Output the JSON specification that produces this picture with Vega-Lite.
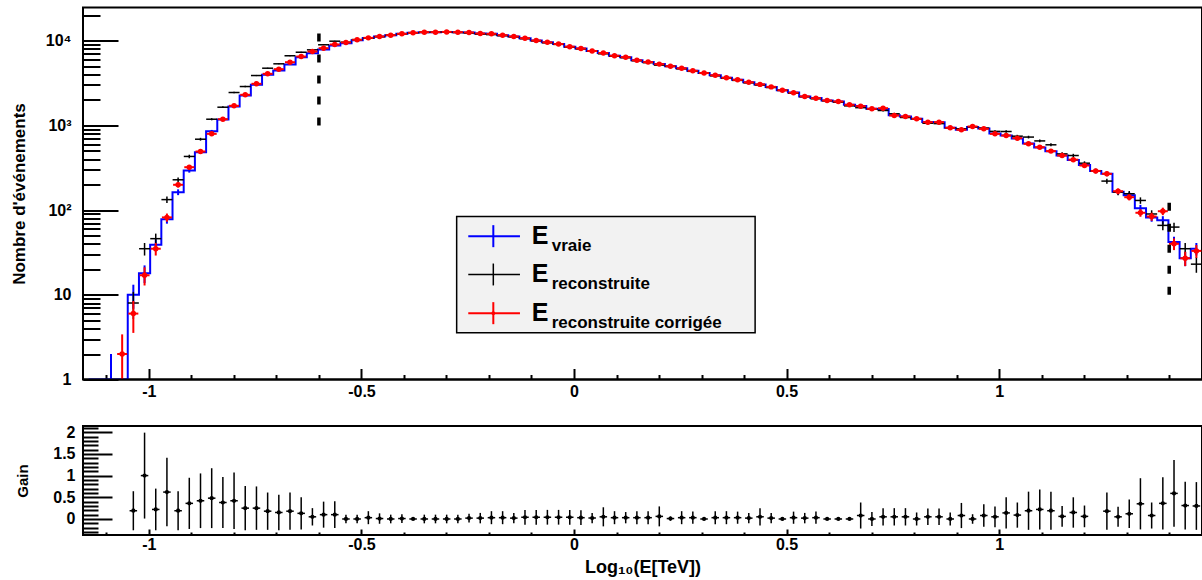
{
"$schema":"https://vega.github.io/schema/vega-lite/v6.json",
"background":"white",
"padding":{"left":9,"top":6.5,"right":0,"bottom":0},
"spacing":22.5,
"config":{
 "view":{"stroke":"black","strokeWidth":2},
 "axis":{"labelFont":"Liberation Sans","labelFontWeight":"bold","labelFontSize":16,"labelColor":"black","titleFont":"Liberation Sans","titleFontWeight":"bold","titleColor":"black","tickColor":"black","tickWidth":2,"domain":false,"grid":false}
},
"datasets":{"h":[
{"x":-1.1417,"v":0,"r":0,"c":0,"ev":0,"er":0,"ec":0},
{"x":-1.1154,"v":0,"r":0,"c":0,"ev":0,"er":0,"ec":0},
{"x":-1.0891,"v":1,"r":0,"c":0,"ev":1,"er":0,"ec":0},
{"x":-1.0628,"v":0,"r":0,"c":2,"ev":0,"er":0,"ec":1.41},
{"x":-1.0365,"v":10,"r":8,"c":6,"ev":3.16,"er":2.83,"ec":2.45,"g":0.19,"ge":0.45},
{"x":-1.0101,"v":18,"r":35,"c":17,"ev":4.24,"er":5.92,"ec":4.12,"g":1.0,"ge":0.99},
{"x":-0.9838,"v":39,"r":46,"c":35,"ev":6.24,"er":6.78,"ec":5.92,"g":0.22,"ge":0.48},
{"x":-0.9575,"v":78,"r":133,"c":82,"ev":8.83,"er":11.5,"ec":9.06,"g":0.62,"ge":0.79},
{"x":-0.9312,"v":163,"r":228,"c":199,"ev":12.8,"er":15.1,"ec":14.1,"g":0.19,"ge":0.45},
{"x":-0.9049,"v":294,"r":430,"c":321,"ev":17.1,"er":20.7,"ec":17.9,"g":0.36,"ge":0.59},
{"x":-0.8785,"v":483,"r":687,"c":492,"ev":22.0,"er":26.2,"ec":22.2,"g":0.42,"ge":0.63},
{"x":-0.8522,"v":855,"r":1183,"c":795,"ev":29.2,"er":34.4,"ec":28.2,"g":0.48,"ge":0.69},
{"x":-0.8259,"v":1175,"r":1640,"c":1183,"ev":34.3,"er":40.5,"ec":34.4,"g":0.38,"ge":0.59},
{"x":-0.7996,"v":1672,"r":2445,"c":1703,"ev":40.9,"er":49.4,"ec":41.3,"g":0.42,"ge":0.65},
{"x":-0.7733,"v":2256,"r":2877,"c":2297,"ev":47.5,"er":53.6,"ec":47.9,"g":0.25,"ge":0.51},
{"x":-0.7469,"v":3016,"r":3880,"c":3098,"ev":54.9,"er":62.3,"ec":55.7,"g":0.25,"ge":0.50},
{"x":-0.7206,"v":3958,"r":4735,"c":4064,"ev":62.9,"er":68.8,"ec":63.7,"g":0.18,"ge":0.43},
{"x":-0.6943,"v":4447,"r":5334,"c":4613,"ev":66.7,"er":73.0,"ec":67.9,"g":0.15,"ge":0.41},
{"x":-0.6680,"v":5236,"r":6640,"c":5571,"ev":72.4,"er":81.5,"ec":74.6,"g":0.18,"ge":0.43},
{"x":-0.6417,"v":6385,"r":7310,"c":6500,"ev":79.9,"er":85.5,"ec":80.6,"g":0.13,"ge":0.37},
{"x":-0.6153,"v":7130,"r":7800,"c":7450,"ev":84.4,"er":88.3,"ec":86.3,"g":0.05,"ge":0.2},
{"x":-0.5890,"v":7880,"r":8950,"c":8160,"ev":88.8,"er":94.6,"ec":90.3,"g":0.1,"ge":0.3},
{"x":-0.5627,"v":8770,"r":9870,"c":9020,"ev":93.6,"er":99.3,"ec":95.0,"g":0.1,"ge":0.31},
{"x":-0.5364,"v":9300,"r":9600,"c":9520,"ev":96.4,"er":98.0,"ec":97.6,"g":0.0,"ge":0.1},
{"x":-0.5101,"v":10150,"r":10300,"c":10240,"ev":100.7,"er":101.5,"ec":101.2,"g":0.0,"ge":0.1},
{"x":-0.4837,"v":10750,"r":10700,"c":10800,"ev":103.7,"er":103.4,"ec":103.9,"g":0.03,"ge":0.15},
{"x":-0.4574,"v":11200,"r":11150,"c":11210,"ev":105.8,"er":105.6,"ec":105.9,"g":0.01,"ge":0.12},
{"x":-0.4311,"v":11620,"r":11600,"c":11620,"ev":107.8,"er":107.7,"ec":107.8,"g":0.0,"ge":0.1},
{"x":-0.4048,"v":12050,"r":12000,"c":12050,"ev":109.8,"er":109.5,"ec":109.8,"g":0.01,"ge":0.1},
{"x":-0.3785,"v":12390,"r":12390,"c":12390,"ev":111.3,"er":111.3,"ec":111.3,"g":0.0,"ge":0.02},
{"x":-0.3521,"v":12600,"r":12550,"c":12610,"ev":112.2,"er":112.0,"ec":112.3,"g":0.0,"ge":0.1},
{"x":-0.3258,"v":12620,"r":12600,"c":12610,"ev":112.3,"er":112.2,"ec":112.3,"g":0.0,"ge":0.1},
{"x":-0.2995,"v":12700,"r":12650,"c":12700,"ev":112.7,"er":112.5,"ec":112.7,"g":0.0,"ge":0.1},
{"x":-0.2732,"v":12600,"r":12500,"c":12610,"ev":112.2,"er":111.8,"ec":112.3,"g":0.0,"ge":0.1},
{"x":-0.2469,"v":12480,"r":12300,"c":12500,"ev":111.7,"er":110.9,"ec":111.8,"g":0.02,"ge":0.1},
{"x":-0.2205,"v":12150,"r":11950,"c":12160,"ev":110.2,"er":109.3,"ec":110.3,"g":0.02,"ge":0.12},
{"x":-0.1942,"v":12050,"r":11800,"c":12050,"ev":109.8,"er":108.6,"ec":109.8,"g":0.03,"ge":0.15},
{"x":-0.1679,"v":11620,"r":11450,"c":11620,"ev":107.8,"er":107.0,"ec":107.8,"g":0.03,"ge":0.15},
{"x":-0.1416,"v":11200,"r":11100,"c":11210,"ev":105.8,"er":105.4,"ec":105.9,"g":0.02,"ge":0.12},
{"x":-0.1153,"v":10700,"r":10550,"c":10700,"ev":103.4,"er":102.7,"ec":103.4,"g":0.04,"ge":0.17},
{"x":-0.0889,"v":10050,"r":9950,"c":10040,"ev":100.2,"er":99.7,"ec":100.2,"g":0.04,"ge":0.17},
{"x":-0.0626,"v":9560,"r":9450,"c":9570,"ev":97.8,"er":97.2,"ec":97.8,"g":0.04,"ge":0.17},
{"x":-0.0363,"v":9130,"r":9050,"c":9130,"ev":95.6,"er":95.1,"ec":95.6,"g":0.04,"ge":0.17},
{"x":-0.0100,"v":8500,"r":8400,"c":8490,"ev":92.2,"er":91.7,"ec":92.1,"g":0.04,"ge":0.17},
{"x":0.0163,"v":8100,"r":8000,"c":8090,"ev":90.0,"er":89.4,"ec":89.9,"g":0.03,"ge":0.17},
{"x":0.0427,"v":7580,"r":7500,"c":7580,"ev":87.1,"er":86.6,"ec":87.1,"g":0.02,"ge":0.12},
{"x":0.0690,"v":7160,"r":7000,"c":7160,"ev":84.6,"er":83.7,"ec":84.6,"g":0.05,"ge":0.22},
{"x":0.0953,"v":6650,"r":6550,"c":6640,"ev":81.5,"er":80.9,"ec":81.5,"g":0.03,"ge":0.15},
{"x":0.1216,"v":6380,"r":6300,"c":6390,"ev":79.9,"er":79.4,"ec":79.9,"g":0.03,"ge":0.13},
{"x":0.1479,"v":5870,"r":5800,"c":5870,"ev":76.6,"er":76.2,"ec":76.6,"g":0.03,"ge":0.15},
{"x":0.1743,"v":5590,"r":5500,"c":5590,"ev":74.8,"er":74.2,"ec":74.8,"g":0.03,"ge":0.15},
{"x":0.2006,"v":5300,"r":5150,"c":5290,"ev":72.8,"er":71.8,"ec":72.7,"g":0.06,"ge":0.23},
{"x":0.2269,"v":5000,"r":4980,"c":4990,"ev":70.7,"er":70.6,"ec":70.6,"g":0.01,"ge":0.05},
{"x":0.2532,"v":4720,"r":4650,"c":4720,"ev":68.7,"er":68.2,"ec":68.7,"g":0.03,"ge":0.15},
{"x":0.2795,"v":4420,"r":4350,"c":4410,"ev":66.5,"er":66.0,"ec":66.4,"g":0.03,"ge":0.14},
{"x":0.3059,"v":4150,"r":4130,"c":4150,"ev":64.4,"er":64.3,"ec":64.4,"g":0.0,"ge":0.03},
{"x":0.3322,"v":3900,"r":3850,"c":3900,"ev":62.4,"er":62.0,"ec":62.4,"g":0.03,"ge":0.15},
{"x":0.3585,"v":3650,"r":3600,"c":3650,"ev":60.4,"er":60.0,"ec":60.4,"g":0.03,"ge":0.15},
{"x":0.3848,"v":3450,"r":3400,"c":3450,"ev":58.7,"er":58.3,"ec":58.7,"g":0.03,"ge":0.14},
{"x":0.4111,"v":3230,"r":3180,"c":3230,"ev":56.8,"er":56.4,"ec":56.8,"g":0.02,"ge":0.12},
{"x":0.4375,"v":3050,"r":3000,"c":3050,"ev":55.2,"er":54.8,"ec":55.2,"g":0.05,"ge":0.2},
{"x":0.4638,"v":2850,"r":2800,"c":2850,"ev":53.4,"er":52.9,"ec":53.4,"g":0.02,"ge":0.12},
{"x":0.4901,"v":2600,"r":2590,"c":2600,"ev":51.0,"er":50.9,"ec":51.0,"g":0.0,"ge":0.03},
{"x":0.5164,"v":2450,"r":2400,"c":2430,"ev":49.5,"er":49.0,"ec":49.3,"g":0.03,"ge":0.14},
{"x":0.5427,"v":2200,"r":2180,"c":2200,"ev":46.9,"er":46.7,"ec":46.9,"g":0.02,"ge":0.12},
{"x":0.5691,"v":2100,"r":2060,"c":2097,"ev":45.8,"er":45.4,"ec":45.8,"g":0.03,"ge":0.14},
{"x":0.5954,"v":1970,"r":1950,"c":1968,"ev":44.4,"er":44.2,"ec":44.4,"g":0.0,"ge":0.02},
{"x":0.6217,"v":1915,"r":1880,"c":1915,"ev":43.8,"er":43.4,"ec":43.8,"g":0.0,"ge":0.02},
{"x":0.6480,"v":1750,"r":1700,"c":1750,"ev":41.8,"er":41.2,"ec":41.8,"g":0.0,"ge":0.02},
{"x":0.6743,"v":1690,"r":1620,"c":1687,"ev":41.1,"er":40.2,"ec":41.1,"g":0.08,"ge":0.3},
{"x":0.7007,"v":1570,"r":1560,"c":1570,"ev":39.6,"er":39.5,"ec":39.6,"g":0.0,"ge":0.16},
{"x":0.7270,"v":1560,"r":1500,"c":1597,"ev":39.5,"er":38.7,"ec":40.0,"g":0.05,"ge":0.2},
{"x":0.7533,"v":1320,"r":1371,"c":1309,"ev":36.3,"er":37.0,"ec":36.2,"g":0.05,"ge":0.2},
{"x":0.7796,"v":1270,"r":1240,"c":1274,"ev":35.6,"er":35.2,"ec":35.7,"g":0.05,"ge":0.2},
{"x":0.8059,"v":1200,"r":1190,"c":1196,"ev":34.6,"er":34.5,"ec":34.6,"g":0.0,"ge":0.15},
{"x":0.8323,"v":1100,"r":1060,"c":1092,"ev":33.2,"er":32.6,"ec":33.0,"g":0.05,"ge":0.19},
{"x":0.8586,"v":1090,"r":1050,"c":1092,"ev":33.0,"er":32.4,"ec":33.0,"g":0.05,"ge":0.19},
{"x":0.8849,"v":940,"r":936,"c":936,"ev":30.7,"er":30.6,"ec":30.6,"g":0.0,"ge":0.15},
{"x":0.9112,"v":890,"r":911,"c":887,"ev":29.8,"er":30.2,"ec":29.8,"g":0.08,"ge":0.29},
{"x":0.9375,"v":960,"r":960,"c":971,"ev":31.0,"er":31.0,"ec":31.2,"g":0.0,"ge":0.11},
{"x":0.9639,"v":920,"r":930,"c":911,"ev":30.3,"er":30.5,"ec":30.2,"g":0.08,"ge":0.26},
{"x":0.9902,"v":800,"r":850,"c":795,"ev":28.3,"er":29.2,"ec":28.2,"g":0.05,"ge":0.24},
{"x":1.0165,"v":760,"r":847,"c":760,"ev":27.6,"er":29.1,"ec":27.6,"g":0.14,"ge":0.36},
{"x":1.0428,"v":700,"r":746,"c":707,"ev":26.5,"er":27.3,"ec":26.6,"g":0.09,"ge":0.29},
{"x":1.0691,"v":610,"r":728,"c":606,"ev":24.7,"er":27.0,"ec":24.6,"g":0.19,"ge":0.44},
{"x":1.0955,"v":550,"r":656,"c":553,"ev":23.5,"er":25.6,"ec":23.5,"g":0.22,"ge":0.46},
{"x":1.1218,"v":495,"r":590,"c":497,"ev":22.2,"er":24.3,"ec":22.3,"g":0.19,"ge":0.44},
{"x":1.1481,"v":440,"r":461,"c":441,"ev":21.0,"er":21.5,"ec":21.0,"g":0.06,"ge":0.24},
{"x":1.1744,"v":390,"r":441,"c":394,"ev":19.7,"er":21.0,"ec":19.8,"g":0.15,"ge":0.35},
{"x":1.2007,"v":340,"r":358,"c":336,"ev":18.4,"er":18.9,"ec":18.3,"g":0.06,"ge":0.25},
{"x":1.2271,"v":290,"r":290,"c":290,"ev":17.0,"er":17.0,"ec":17.0},
{"x":1.2534,"v":268,"r":220,"c":268,"ev":16.4,"er":14.8,"ec":16.4,"g":0.18,"ge":0.43},
{"x":1.2797,"v":165,"r":163,"c":167,"ev":12.8,"er":12.8,"ec":12.9,"g":0.05,"ge":0.23},
{"x":1.3060,"v":150,"r":156,"c":142,"ev":12.2,"er":12.5,"ec":11.9,"g":0.12,"ge":0.33},
{"x":1.3323,"v":105,"r":130,"c":93,"ev":10.2,"er":11.4,"ec":9.6,"g":0.35,"ge":0.59},
{"x":1.3587,"v":82,"r":90,"c":84,"ev":9.1,"er":9.5,"ec":9.2,"g":0.08,"ge":0.3},
{"x":1.3850,"v":76,"r":66,"c":97,"ev":8.7,"er":8.1,"ec":9.8,"g":0.36,"ge":0.6},
{"x":1.4113,"v":42,"r":63,"c":40,"ev":6.5,"er":7.9,"ec":6.3,"g":0.59,"ge":0.77},
{"x":1.4376,"v":27,"r":35,"c":27,"ev":5.2,"er":5.9,"ec":5.2,"g":0.31,"ge":0.55},
{"x":1.4639,"v":35,"r":23,"c":33,"ev":5.9,"er":4.8,"ec":5.7,"g":0.3,"ge":0.55}
]},
"vconcat":[
{
 "width":1119,"height":372,
 "resolve":{"axis":{"x":"independent","y":"independent"}},
 "layer":[
  {"data":{"name":"h"},
   "mark":{"type":"line","interpolate":"step","color":"#0000ff","strokeWidth":2,"clip":true},
   "encoding":{
    "x":{"field":"x","type":"quantitative","scale":{"domain":[-1.154902,1.477121],"nice":false,"zero":false},
         "axis":{"orient":"bottom","values":[-1,-0.5,0,0.5,1],"tickSize":-11,"labelPadding":14.5,"labelExpr":"datum.value + ''","title":null}},
    "y":{"field":"v","type":"quantitative","scale":{"type":"log","domain":[1,24660],"nice":false,"clamp":true},
         "axis":{"orient":"left","values":[1,10,100,1000,10000],"tickSize":-35,"labelPadding":47,"labelExpr":"datum.value >= 10000 ? '10⁴' : datum.value >= 1000 ? '10³' : datum.value >= 100 ? '10²' : datum.value >= 10 ? '10' : '1'","title":"Nombre d'événements","titleFontSize":17,"titlePadding":17}}
   }},
  {"data":{"name":"h"},"transform":[{"filter":"datum.v > 0"}],
   "mark":{"type":"errorbar","ticks":false,"color":"#0000ff","thickness":2},
   "encoding":{"x":{"field":"x","type":"quantitative","axis":null},"y":{"field":"v","type":"quantitative","axis":null},"yError":{"field":"ev"}}},
  {"data":{"name":"h"},"transform":[{"filter":"datum.r > 0"}],
   "mark":{"type":"errorbar","ticks":false,"color":"black","thickness":1.5},
   "encoding":{"x":{"field":"x","type":"quantitative","axis":null},"y":{"field":"r","type":"quantitative","axis":null},"yError":{"field":"er"}}},
  {"data":{"name":"h"},"transform":[{"filter":"datum.r > 0"}],
   "mark":{"type":"tick","orient":"horizontal","color":"black","size":11,"thickness":1.5,"opacity":1},
   "encoding":{"x":{"field":"x","type":"quantitative","axis":null},"y":{"field":"r","type":"quantitative","axis":null}}},
  {"data":{"name":"h"},"transform":[{"filter":"datum.c > 0"}],
   "mark":{"type":"errorbar","ticks":false,"color":"#ff0000","thickness":2},
   "encoding":{"x":{"field":"x","type":"quantitative","axis":null},"y":{"field":"c","type":"quantitative","axis":null},"yError":{"field":"ec"}}},
  {"data":{"name":"h"},"transform":[{"filter":"datum.c > 0"}],
   "mark":{"type":"tick","orient":"horizontal","color":"#ff0000","size":10,"thickness":2,"opacity":1},
   "encoding":{"x":{"field":"x","type":"quantitative","axis":null},"y":{"field":"c","type":"quantitative","axis":null}}},
  {"data":{"name":"h"},"transform":[{"filter":"datum.c > 0"}],
   "mark":{"type":"point","filled":true,"color":"#ff0000","size":30,"opacity":1},
   "encoding":{"x":{"field":"x","type":"quantitative","axis":null},"y":{"field":"c","type":"quantitative","axis":null}}},
  {"data":{"values":[{}]},
   "mark":{"type":"rule","color":"black","strokeWidth":2},
   "encoding":{"x":{"datum":-1.154902,"type":"quantitative","axis":null},"x2":{"datum":1.477121},"y":{"datum":1,"type":"quantitative","axis":null}}},
  {"data":{"values":[{}]},
   "mark":{"type":"rule","color":"black","strokeWidth":3.5,"strokeDash":[8,13]},
   "encoding":{
    "x":{"datum":-0.6,"type":"quantitative","axis":{"orient":"bottom","values":[-1.1,-0.9,-0.8,-0.7,-0.6,-0.4,-0.3,-0.2,-0.1,0.1,0.2,0.3,0.4,0.6,0.7,0.8,0.9,1.1,1.2,1.3,1.4],"tickSize":-5,"labels":false,"title":null}},
    "y":{"datum":1000,"type":"quantitative","axis":{"orient":"left","values":[2,3,4,5,6,7,8,9,20,30,40,50,60,70,80,90,200,300,400,500,600,700,800,900,2000,3000,4000,5000,6000,7000,8000,9000,20000],"tickSize":-17,"labels":false,"title":null}},
    "y2":{"datum":16500}}},
  {"data":{"values":[{}]},
   "mark":{"type":"rule","color":"black","strokeWidth":3.5,"strokeDash":[8,13]},
   "encoding":{"x":{"datum":1.4,"type":"quantitative","axis":null},"y":{"datum":10,"type":"quantitative","axis":null},"y2":{"datum":163}}},
  {"data":{"values":[{}]},
   "mark":{"type":"rect","fill":"#f2f2f2","stroke":"black","strokeWidth":1.5},
   "encoding":{"x":{"datum":-0.276,"type":"quantitative","axis":null},"x2":{"datum":0.426},"y":{"datum":84,"type":"quantitative","axis":null},"y2":{"datum":3.56}}},
  {"data":{"values":[{}]},"mark":{"type":"rule","color":"#0000ff","strokeWidth":2},
   "encoding":{"x":{"datum":-0.2487,"type":"quantitative","axis":null},"x2":{"datum":-0.1271},"y":{"datum":49.2,"type":"quantitative","axis":null}}},
  {"data":{"values":[{}]},"mark":{"type":"rule","color":"#0000ff","strokeWidth":2},
   "encoding":{"x":{"datum":-0.1898,"type":"quantitative","axis":null},"y":{"datum":36.5,"type":"quantitative","axis":null},"y2":{"datum":66.4}}},
  {"data":{"values":[{}]},"mark":{"type":"rule","color":"black","strokeWidth":1.5},
   "encoding":{"x":{"datum":-0.2487,"type":"quantitative","axis":null},"x2":{"datum":-0.1271},"y":{"datum":17.37,"type":"quantitative","axis":null}}},
  {"data":{"values":[{}]},"mark":{"type":"rule","color":"black","strokeWidth":1.5},
   "encoding":{"x":{"datum":-0.1898,"type":"quantitative","axis":null},"y":{"datum":12.9,"type":"quantitative","axis":null},"y2":{"datum":23.4}}},
  {"data":{"values":[{}]},"mark":{"type":"rule","color":"#ff0000","strokeWidth":2},
   "encoding":{"x":{"datum":-0.2487,"type":"quantitative","axis":null},"x2":{"datum":-0.1271},"y":{"datum":6.07,"type":"quantitative","axis":null}}},
  {"data":{"values":[{}]},"mark":{"type":"rule","color":"#ff0000","strokeWidth":2},
   "encoding":{"x":{"datum":-0.1898,"type":"quantitative","axis":null},"y":{"datum":4.5,"type":"quantitative","axis":null},"y2":{"datum":8.19}}},
  {"data":{"values":[{}]},"mark":{"type":"point","filled":true,"color":"#ff0000","size":14,"opacity":1},
   "encoding":{"x":{"datum":-0.1898,"type":"quantitative","axis":null},"y":{"datum":6.07,"type":"quantitative","axis":null}}},
  {"data":{"values":[{}]},"mark":{"type":"text","text":"E","align":"left","baseline":"alphabetic","dy":7.6,"fontSize":25,"fontWeight":"bold","font":"Liberation Sans","color":"black"},
   "encoding":{"x":{"datum":-0.0995,"type":"quantitative","axis":null},"y":{"datum":49.2,"type":"quantitative","axis":null}}},
  {"data":{"values":[{}]},"mark":{"type":"text","text":"vraie","align":"left","baseline":"alphabetic","dy":15,"fontSize":17,"fontWeight":"bold","font":"Liberation Sans","color":"black"},
   "encoding":{"x":{"datum":-0.0525,"type":"quantitative","axis":null},"y":{"datum":49.2,"type":"quantitative","axis":null}}},
  {"data":{"values":[{}]},"mark":{"type":"text","text":"E","align":"left","baseline":"alphabetic","dy":7.6,"fontSize":25,"fontWeight":"bold","font":"Liberation Sans","color":"black"},
   "encoding":{"x":{"datum":-0.0995,"type":"quantitative","axis":null},"y":{"datum":17.37,"type":"quantitative","axis":null}}},
  {"data":{"values":[{}]},"mark":{"type":"text","text":"reconstruite","align":"left","baseline":"alphabetic","dy":15,"fontSize":17,"fontWeight":"bold","font":"Liberation Sans","color":"black"},
   "encoding":{"x":{"datum":-0.0525,"type":"quantitative","axis":null},"y":{"datum":17.37,"type":"quantitative","axis":null}}},
  {"data":{"values":[{}]},"mark":{"type":"text","text":"E","align":"left","baseline":"alphabetic","dy":7.6,"fontSize":25,"fontWeight":"bold","font":"Liberation Sans","color":"black"},
   "encoding":{"x":{"datum":-0.0995,"type":"quantitative","axis":null},"y":{"datum":6.07,"type":"quantitative","axis":null}}},
  {"data":{"values":[{}]},"mark":{"type":"text","text":"reconstruite corrigée","align":"left","baseline":"alphabetic","dy":15,"fontSize":17,"fontWeight":"bold","font":"Liberation Sans","color":"black"},
   "encoding":{"x":{"datum":-0.0525,"type":"quantitative","axis":null},"y":{"datum":6.07,"type":"quantitative","axis":null}}}
 ]
},
{
 "width":1119,"height":109,
 "data":{"name":"h"},
 "transform":[{"filter":"isValid(datum.g)"}],
 "resolve":{"axis":{"x":"independent","y":"independent"}},
 "layer":[
  {"mark":{"type":"errorbar","ticks":false,"color":"black","thickness":1.5},
   "encoding":{"x":{"field":"x","type":"quantitative","axis":null,"scale":{"domain":[-1.154902,1.477121],"nice":false,"zero":false}},
               "y":{"field":"g","type":"quantitative","axis":null,"scale":{"domain":[-0.369,2.143],"nice":false,"zero":false}},
               "yError":{"field":"ge"}}},
  {"mark":{"type":"tick","orient":"horizontal","color":"black","size":7.5,"thickness":1.5,"opacity":1},
   "encoding":{"x":{"field":"x","type":"quantitative","axis":{"orient":"bottom","values":[-1.1,-0.9,-0.8,-0.7,-0.6,-0.4,-0.3,-0.2,-0.1,0.1,0.2,0.3,0.4,0.6,0.7,0.8,0.9,1.1,1.2,1.3,1.4],"tickSize":-3,"labels":false,"title":null}},
               "y":{"field":"g","type":"quantitative","axis":{"orient":"left","values":[-0.3,-0.2,-0.1,0.1,0.2,0.3,0.4,0.6,0.7,0.8,0.9,1.1,1.2,1.3,1.4,1.6,1.7,1.8,1.9,2.1],"tickSize":-15,"labels":false,"title":null}}}},
  {"mark":{"type":"point","filled":true,"color":"black","size":18,"opacity":1},
   "encoding":{"x":{"field":"x","type":"quantitative","axis":{"orient":"bottom","values":[-1,-0.5,0,0.5,1],"tickSize":-6,"labelPadding":7.5,"labelExpr":"datum.value + ''","title":"Log₁₀(E[TeV])","titleFontSize":18,"titlePadding":6}},
               "y":{"field":"g","type":"quantitative","axis":{"orient":"left","values":[0,0.5,1,1.5,2],"tickSize":-29,"labelPadding":37,"labelExpr":"datum.value + ''","title":"Gain","titleFontSize":15,"titlePadding":22}}}}
 ]
}
]
}
